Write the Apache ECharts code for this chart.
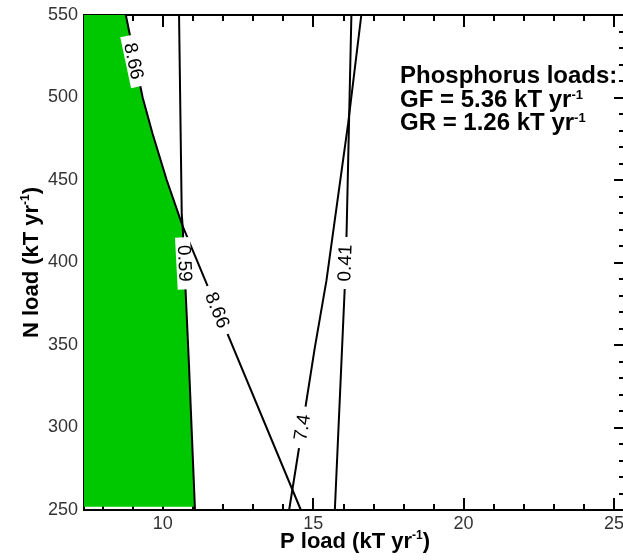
<!DOCTYPE html>
<html lang="en">
<head>
  <meta charset="UTF-8">
  <title>N and P loads</title>
  <script src="https://cdn.jsdelivr.net/npm/echarts@6/dist/echarts.min.js"></script>
  <style>html, body { margin: 0; padding: 0; background: #fff; overflow: hidden; }</style>
</head>
<body>
  <div id="app" style="width: 623px; height: 560px;"></div>
  <script>
    // contour lines, points are [P load, N load]
    var line866 = [[8.77, 550], [9.33, 500], [9.66, 478], [10.13, 450], [10.66, 422], [14.59, 250]]
    var line059 = [[10.54, 550], [10.63, 429], [10.66, 422], [10.87, 338], [11.07, 250]]
    var line74 = [[14.20, 250], [14.55, 290], [15.05, 348], [15.44, 389], [16.16, 484], [16.60, 550]]
    var line041 = [[15.72, 250], [16.05, 385], [16.11, 418], [16.27, 550]]

    // where 8.66 and 0.59 cross, and bottom of the green area
    var crossN = 422
    var fillBottom = 252

    var xMin = 7.38
    var xMax = 25.4
    var xMajor = [10, 15, 20, 25]
    var xMinor = [8, 9, 11, 12, 13, 14, 16, 17, 18, 19, 21, 22, 23, 24]

    // inline contour labels
    var labels866 = [
      { text: '8.66', at: [9.01, 522], angle: -78 },
      { text: '8.66', at: [11.79, 371], angle: -68 }
    ]
    var labels059 = [{ text: '0.59', at: [10.70, 399.5], angle: -87 }]
    var labels74 = [{ text: '7.4', at: [14.66, 300], angle: 81 }]
    var labels041 = [{ text: '0.41', at: [16.08, 399.7], angle: 88 }]

    // green region: left of 8.66 above the crossing, left of 0.59 below it
    var green = [[xMin, fillBottom], [xMin, 550]]
    line866.forEach(function (p) { if (p[1] >= crossN) green.push(p) })
    line059.forEach(function (p) { if (p[1] < crossN) green.push([p[0], Math.max(p[1], fillBottom)]) })

    var font = 'Liberation Sans, Arial, Helvetica, sans-serif'
    var black = { color: '#000', width: 2 }
    var nameRich = {
      b: { fontFamily: font, fontWeight: 'bold', fontSize: 22, color: '#000', lineHeight: 24 },
      s: { fontFamily: font, fontWeight: 'bold', fontSize: 12, color: '#000', verticalAlign: 'top', lineHeight: 24 }
    }

    function marks(list) {
      return list.map(function (l) {
        return {
          coord: l.at,
          symbolRotate: l.angle,
          symbolSize: [l.text.length * 10 + 12, 15],
          label: { formatter: l.text, rotate: l.angle }
        }
      })
    }

    function contour(data, labels) {
      return {
        type: 'line',
        data: data,
        showSymbol: false,
        silent: true,
        z: 3,
        lineStyle: black,
        markPoint: {
          symbol: 'rect',
          silent: true,
          itemStyle: { color: '#fff' },
          label: { show: true, color: '#000', fontSize: 19, fontFamily: font },
          data: marks(labels)
        }
      }
    }

    function xAx(pos, ticks, len, opts) {
      return Object.assign({
        type: 'value', min: xMin, max: xMax, position: pos,
        axisLine: { show: true, onZero: false, lineStyle: black },
        axisTick: { inside: true, length: len, customValues: ticks, lineStyle: black },
        axisLabel: { show: false },
        splitLine: { show: false }
      }, opts || {})
    }

    var app = document.querySelector('#app')
    var mCharts = echarts.init(app)

    var option = {
      animation: false,
      // plot runs a little past the right edge of the picture
      grid: { left: 84, top: 15, width: 542, height: 495, outerBoundsMode: 'none', containLabel: false },
      title: [{
        left: 400, top: 65, padding: 0,
        text: '{b|Phosphorus loads:}\n{b|GF = 5.36 kT yr}{s|-1}\n{b|GR = 1.26 kT yr}{s|-1}',
        textStyle: { rich: {
          b: { fontFamily: font, fontWeight: 'bold', fontSize: 24, color: '#000', lineHeight: 23.5 },
          s: { fontFamily: font, fontWeight: 'bold', fontSize: 13, color: '#000', verticalAlign: 'top', lineHeight: 23.5 }
        } }
      }],
      xAxis: [
        xAx('bottom', xMajor, 12, {
          name: '{b|P load (kT yr}{s|-1}{b|)}',
          nameLocation: 'middle',
          nameGap: 20,
          nameMoveOverlap: false,
          nameTextStyle: { rich: nameRich },
          axisLabel: { show: true, customValues: xMajor, margin: 5, fontSize: 18, color: '#333', fontFamily: font }
        }),
        xAx('bottom', xMinor, 6, { axisLine: { show: false } }),
        xAx('top', xMajor, 12),
        xAx('top', xMinor, 6, { axisLine: { show: false } })
      ],
      yAxis: [
        {
          type: 'value', min: 250, max: 550, interval: 50, position: 'left',
          name: '{b|N load (kT yr}{s|-1}{b|)}',
          nameLocation: 'middle',
          nameGap: 40,
          nameMoveOverlap: false,
          nameTextStyle: { rich: nameRich },
          axisLine: { show: true, lineStyle: black },
          axisTick: { inside: true, length: 12, lineStyle: black },
          minorTick: { show: true, splitNumber: 5, length: 7, lineStyle: black },
          axisLabel: { margin: 6, fontSize: 18, color: '#333', fontFamily: font },
          splitLine: { show: false }
        },
        {
          type: 'value', min: 250, max: 550, interval: 50, position: 'right',
          axisLine: { show: true, lineStyle: black },
          axisTick: { inside: true, length: 12, lineStyle: black },
          minorTick: { show: true, splitNumber: 5, length: 7, lineStyle: black },
          axisLabel: { show: false },
          splitLine: { show: false }
        }
      ],
      series: [
        {
          type: 'custom',
          data: green,
          z: 1,
          silent: true,
          renderItem: function (params, api) {
            if (params.dataIndex !== 0) return null
            var pts = green.map(function (p) { return api.coord(p) })
            return { type: 'polygon', shape: { points: pts }, style: { fill: '#00c800' } }
          }
        },
        contour(line866, labels866),
        contour(line059, labels059),
        contour(line74, labels74),
        contour(line041, labels041)
      ]
    }
    mCharts.setOption(option)
  </script>
</body>
</html>
